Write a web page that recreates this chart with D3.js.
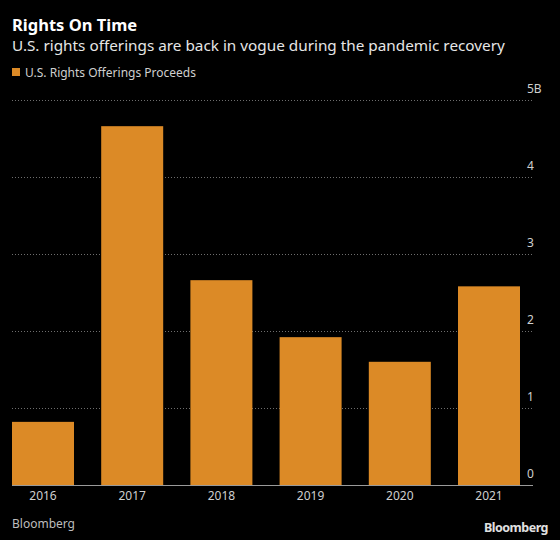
<!DOCTYPE html>
<html><head><meta charset="utf-8">
<script src="https://cdn.jsdelivr.net/npm/d3@7"></script>
<style>body{margin:0;background:#000;}svg{display:block;font-family:"Noto Sans",sans-serif;}</style>
</head><body><svg id="c" width="560" height="540"></svg>
<script>
const years = ["2016","2017","2018","2019","2020","2021"];
const proceeds = [0.82, 4.66, 2.66, 1.92, 1.60, 2.58];
const yTicks = [0,1,2,3,4,5];
const yTickLabels = ["0","1","2","3","4","5B"];

const svg = d3.select("#c");
svg.append("rect").attr("width",560).attr("height",540).attr("fill","#000");

const x = d3.scaleBand().domain(years).range([12,520]).paddingInner(0.305).paddingOuter(0);
const y = d3.scaleLinear().domain([0,5]).range([485,100]);

svg.append("text").attr("x",12).attr("y",31).attr("fill","#fff").attr("font-size",16.5).attr("font-weight","bold").text("Rights On Time");
svg.append("text").attr("x",12).attr("y",51).attr("fill","#e6e6e6").attr("font-size",15.3).text("U.S. rights offerings are back in vogue during the pandemic recovery");
svg.append("rect").attr("x",12).attr("y",68).attr("width",8).attr("height",8).attr("fill","#dc8a26");
svg.append("text").attr("x",25).attr("y",77).attr("fill","#cfcfcf").attr("font-size",12).text("U.S. Rights Offerings Proceeds");

// gridlines
svg.append("g").selectAll("line").data(yTicks.filter(d=>d>0)).join("line")
  .attr("x1",12).attr("x2",533).attr("y1",d=>y(d)+0.5).attr("y2",d=>y(d)+0.5)
  .attr("stroke","#6e6e6e").attr("stroke-width",1).attr("stroke-dasharray","1,2");

svg.append("g").selectAll("rect").data(proceeds).join("rect")
  .attr("x",(d,i)=>x(years[i])).attr("width",x.bandwidth())
  .attr("y",d=>y(d)).attr("height",d=>y(0)-y(d)).attr("fill","#dc8a26");

svg.append("line").attr("x1",12).attr("x2",533).attr("y1",y(0)+0.5).attr("y2",y(0)+0.5).attr("stroke","#9a9a9a").attr("stroke-width",1);

svg.append("g").selectAll("text").data(yTicks).join("text")
  .attr("x",527).attr("y",d=>y(d)-7).attr("fill","#cfcfcf").attr("font-size",12).text((d,i)=>yTickLabels[i]);

const xAxis = d3.axisBottom(x).tickSize(0).tickPadding(6);
const gx = svg.append("g").attr("transform",`translate(0,${y(0)})`).call(xAxis);
gx.select(".domain").remove();
gx.selectAll("text").attr("fill","#cfcfcf").attr("font-size",12).attr("font-family","'Noto Sans',sans-serif");

svg.append("text").attr("x",12).attr("y",528).attr("fill","#bdbdbd").attr("font-size",12).text("Bloomberg");
svg.append("text").attr("x",548).attr("y",532).attr("text-anchor","end").attr("fill","#e0e0e0").attr("font-size",12.5).attr("font-weight","bold").attr("letter-spacing","-0.5").text("Bloomberg");
</script></body></html>
